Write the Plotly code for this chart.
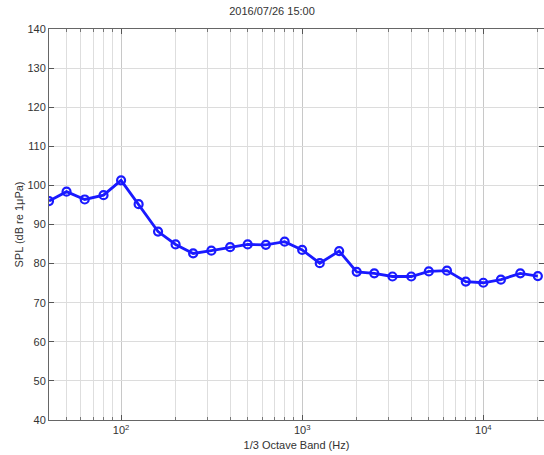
import numpy as np
import plotly.graph_objects as go

# 1/3 octave band centre frequencies (Hz) and measured SPL (dB re 1 uPa)
bands_hz = [40, 50, 63, 80, 100, 125, 160, 200, 250, 315, 400, 500, 630, 800,
            1000, 1250, 1600, 2000, 2500, 3150, 4000, 5000, 6300, 8000,
            10000, 12500, 16000, 20000]
spl_db = [96.0, 98.4, 96.4, 97.5, 101.3, 95.2, 88.2, 84.9, 82.6, 83.3, 84.2,
          84.9, 84.8, 85.6, 83.5, 80.1, 83.2, 77.9, 77.5, 76.7, 76.7, 78.0,
          78.2, 75.4, 75.1, 75.9, 77.5, 76.8]

title_text = "2016/07/26 15:00"
x_title = "1/3 Octave Band (Hz)"
y_title = "SPL (dB re 1\u03bcPa)"
x_major = [100, 1000, 10000]
x_major_text = ["10<sup>2</sup>", "10<sup>3</sup>", "10<sup>4</sup>"]
x_minor = [m * 10 ** d for d in (1, 2, 3, 4) for m in range(2, 10)]
y_ticks = list(range(40, 141, 10))

fig = go.Figure()
fig.add_trace(go.Scatter(
    x=bands_hz, y=spl_db, mode="lines+markers",
    line=dict(color="#1a1aff", width=2.8),
    marker=dict(symbol="circle-open", size=8, color="#1a1aff",
                line=dict(width=2.2, color="#1a1aff")),
    showlegend=False,
))

font = dict(family="Liberation Sans, Arial, sans-serif", size=11, color="#333333")

fig.update_layout(
    width=544, height=455,
    margin=dict(l=49, r=0, t=29, b=35),
    paper_bgcolor="white", plot_bgcolor="white",
    font=font,
    title=dict(text=title_text, x=0.5, xanchor="center", y=0.975,
               yanchor="middle", font=dict(size=11, color="#333333")),
)

fig.update_xaxes(
    type="log", range=[np.log10(40), 4.335],
    tickmode="array", tickvals=x_major, ticktext=x_major_text,
    ticks="inside", ticklen=5, tickcolor="#555555",
    showline=True, linecolor="#666666", linewidth=1, mirror="ticks",
    showgrid=True, gridcolor="#c8c8c8", gridwidth=1,
    minor=dict(tickmode="array", tickvals=x_minor, ticks="inside", ticklen=3,
               tickcolor="#777777", showgrid=True, gridcolor="#dedede",
               gridwidth=1),
    title=dict(text=x_title, standoff=6, font=dict(size=11, color="#333333")),
    zeroline=False,
)
fig.update_yaxes(
    range=[40, 140], tickmode="array", tickvals=y_ticks,
    ticks="inside", ticklen=5, tickcolor="#555555",
    showline=True, linecolor="#666666", linewidth=1, mirror="ticks",
    showgrid=True, gridcolor="#dcdcdc", gridwidth=1,
    title=dict(text=y_title, standoff=1, font=dict(size=11, color="#333333")),
    zeroline=False,
)

fig.write_html("out.html")
